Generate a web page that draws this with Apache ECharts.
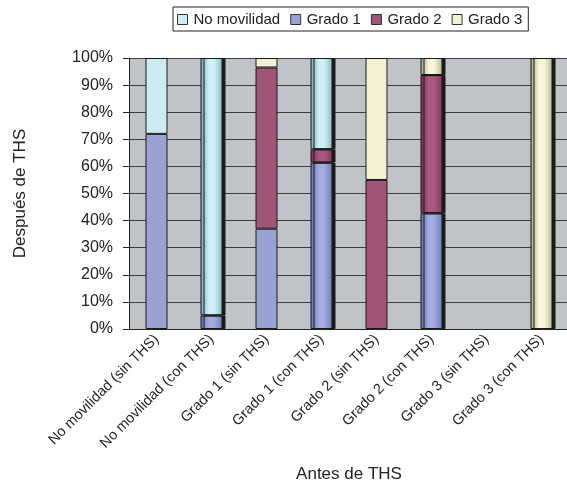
<!DOCTYPE html>
<html>
<head>
<meta charset="utf-8">
<script src="https://cdn.jsdelivr.net/npm/echarts@6/dist/echarts.min.js"></script>
<style>
  html, body { margin: 0; padding: 0; background: #fff; }
  #chart { width: 567px; height: 484px; }
</style>
</head>
<body>
<div id="chart"></div>
<script>
// Categories: mobility grade before THS, split by treatment
var categories = [
  'No movilidad (sin THS)', 'No movilidad (con THS)',
  'Grado 1 (sin THS)', 'Grado 1 (con THS)',
  'Grado 2 (sin THS)', 'Grado 2 (con THS)',
  'Grado 3 (sin THS)', 'Grado 3 (con THS)'
];

// Percentage of patients in each grade after THS
var grado1 = [72, 5, 37, 61.4, null, 42.7, null, null];
var grado2 = [null, null, 59.5, 4.9, 55, 51, null, null];
var grado3 = [null, null, 3.5, null, 45, 6.3, null, 100];
var noMovilidad = [28, 95, null, 33.7, null, null, null, null];

var yTicks = [0, 10, 20, 30, 40, 50, 60, 70, 80, 90, 100];

// Categories drawn with a rounded, shaded look
var shaded = [1, 3, 5, 7];

var FONT = '"Liberation Sans", Arial, sans-serif';

function cyl(edge, mid, edge2) {
  return new echarts.graphic.LinearGradient(0, 0, 1, 0, [
    { offset: 0, color: edge },
    { offset: 0.38, color: mid },
    { offset: 0.62, color: mid },
    { offset: 1, color: edge2 }
  ]);
}

var styles = {
  'No movilidad': { flat: '#CDEBF3', grad: cyl('#6FA6B2', '#CFF0F6', '#86BBC4') },
  'Grado 1': { flat: '#99A3D3', grad: cyl('#5E6FB3', '#A2ACDD', '#6C7CBB') },
  'Grado 2': { flat: '#A05478', grad: cyl('#74304F', '#A9587F', '#83395C') },
  'Grado 3': { flat: '#F3F1D1', grad: cyl('#9FA083', '#F8F6D8', '#B7B796') }
};

function buildSeries(name, values) {
  var st = styles[name];
  return {
    name: name,
    type: 'bar',
    stack: 'total',
    barWidth: 22,
    itemStyle: { color: st.flat, borderColor: '#1a1a1a', borderWidth: 1 },
    data: values.map(function (v, i) {
      if (v === null) return '-';
      if (shaded.indexOf(i) >= 0) {
        return {
          value: v,
          itemStyle: {
            color: st.grad,
            shadowColor: '#1a1a1a',
            shadowBlur: 0,
            shadowOffsetX: 3,
            shadowOffsetY: 0
          }
        };
      }
      return v;
    })
  };
}

var chart = echarts.init(document.getElementById('chart'), null, { renderer: 'canvas' });

chart.setOption({
  animation: false,
  backgroundColor: '#ffffff',
  textStyle: { fontFamily: FONT },
  legend: {
    data: ['No movilidad', 'Grado 1', 'Grado 2', 'Grado 3'],
    left: 173,
    top: 7,
    orient: 'horizontal',
    borderColor: '#222',
    borderWidth: 1,
    padding: [5, 6, 4, 4],
    itemWidth: 10,
    itemHeight: 10,
    itemGap: 10,
    icon: 'rect',
    itemStyle: { borderColor: '#333', borderWidth: 1 },
    textStyle: { fontFamily: FONT, fontSize: 15, color: '#222', padding: [0, 0, 0, 1] }
  },
  grid: {
    left: 129,
    top: 58,
    width: 440,
    height: 271,
    show: true,
    backgroundColor: '#C0C4C9',
    borderWidth: 0,
    containLabel: false,
    outerBoundsMode: 'none'
  },
  xAxis: {
    type: 'category',
    data: categories,
    name: 'Antes de THS',
    nameLocation: 'middle',
    nameGap: 137,
    nameTextStyle: { fontFamily: FONT, fontSize: 17, color: '#222' },
    axisLine: { show: true, lineStyle: { color: '#222', width: 1 } },
    axisTick: { show: false },
    axisLabel: {
      interval: 0,
      rotate: 45,
      margin: 8,
      fontFamily: FONT,
      fontSize: 14.5,
      color: '#222'
    },
    splitLine: { show: false }
  },
  yAxis: {
    type: 'value',
    min: 0,
    max: 100,
    interval: 10,
    name: 'Después de THS',
    nameLocation: 'middle',
    nameRotate: 90,
    nameGap: 100,
    nameTextStyle: { fontFamily: FONT, fontSize: 17, color: '#222' },
    axisLine: { show: true, lineStyle: { color: '#222', width: 1 } },
    axisTick: { show: true, length: 6, lineStyle: { color: '#222' } },
    axisLabel: {
      fontFamily: FONT,
      fontSize: 16,
      color: '#222',
      margin: 16,
      formatter: function (v) { return yTicks.indexOf(v) >= 0 ? v + '%' : ''; }
    },
    splitLine: { show: true, lineStyle: { color: '#3c3c3c', width: 1 } }
  },
  series: [
    buildSeries('Grado 1', grado1),
    buildSeries('Grado 2', grado2),
    buildSeries('Grado 3', grado3),
    buildSeries('No movilidad', noMovilidad)
  ]
});
</script>
</body>
</html>
